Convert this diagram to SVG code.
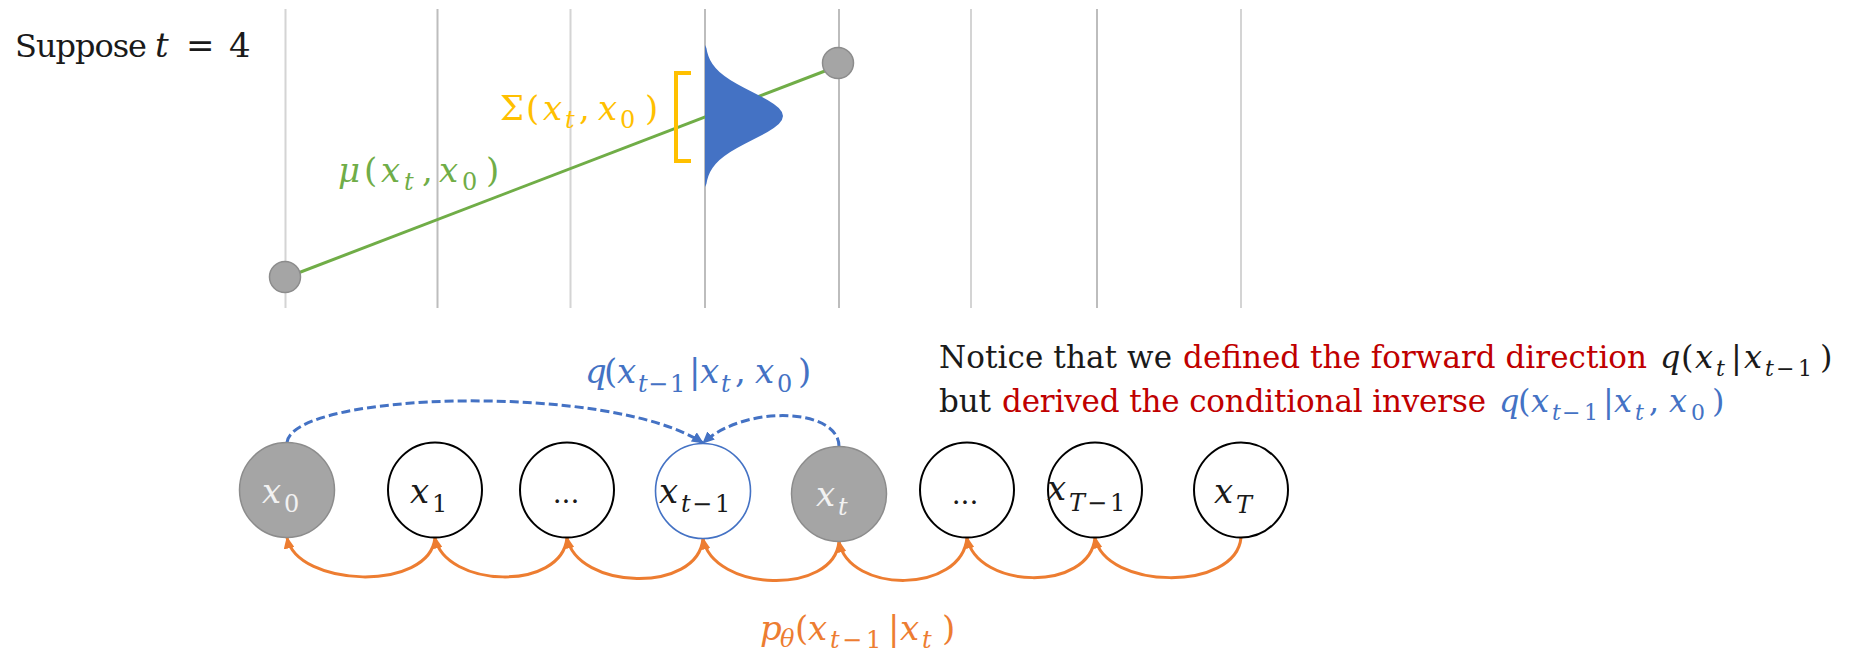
<svg xmlns="http://www.w3.org/2000/svg" width="1850" height="652" viewBox="0 0 1850 652">
<style>
  .s { font-family: "DejaVu Serif", serif; }
  .m { font-size: 34px; }
  .mn { font-size: 32px; }
  .p { font-size: 31px; }
  .it { font-style: italic; }
  .sub { font-size: 24px; }
  .subn { font-size: 22px; }
  .grid1 { stroke: #d4d4d4; stroke-width: 2; }
  .grid2 { stroke: #bdbdbd; stroke-width: 2; }
  .dot { fill: #a5a5a5; stroke: #8c8c8c; stroke-width: 1.5; }
  .nodeW { fill: #ffffff; stroke: #000000; stroke-width: 2; }
  .nodeG { fill: #a5a5a5; stroke: #8c8c8c; stroke-width: 1.5; }
  .nodeB { fill: #ffffff; stroke: #4472c4; stroke-width: 1.6; }
  .fwd { fill: none; stroke: #ed7d31; stroke-width: 3; marker-end: url(#arrO); }
  .inv { fill: none; stroke: #4472c4; stroke-width: 3; stroke-dasharray: 9 4; marker-end: url(#arrB); }
  .lblW { fill: #f2f2f2; }
  .lblK { fill: #1a1a1a; }
  .blue { fill: #4472c4; }
  .orange { fill: #ed7d31; }
  .green { fill: #70ad47; }
  .gold { fill: #ffc000; }
  .red { fill: #c00000; }
</style>
<defs>
  <marker id="arrO" viewBox="0 0 12 11" refX="11" refY="5.5" markerWidth="12" markerHeight="11" markerUnits="userSpaceOnUse" orient="auto">
    <path d="M0,0 L12,5.5 L0,11 z" fill="#ed7d31"/>
  </marker>
  <marker id="arrB" viewBox="0 0 12 11" refX="11" refY="5.5" markerWidth="12" markerHeight="11" markerUnits="userSpaceOnUse" orient="auto">
    <path d="M0,0 L12,5.5 L0,11 z" fill="#4472c4"/>
  </marker>
</defs>
<rect width="1850" height="652" fill="#ffffff"/>

<!-- upper plot -->
<g id="grid">
  <line class="grid1" x1="285.5" y1="9" x2="285.5" y2="308"/>
  <line class="grid2" x1="437.5" y1="9" x2="437.5" y2="308"/>
  <line class="grid1" x1="570.5" y1="9" x2="570.5" y2="308"/>
  <line class="grid2" x1="705" y1="9" x2="705" y2="308"/>
  <line class="grid2" x1="839" y1="9" x2="839" y2="308"/>
  <line class="grid1" x1="971" y1="9" x2="971" y2="308"/>
  <line class="grid2" x1="1097" y1="9" x2="1097" y2="308"/>
  <line class="grid1" x1="1241" y1="9" x2="1241" y2="308"/>
</g>

<g id="suppose">
  <text class="s lblK" x="15" y="57" style="font-size:32px" textLength="132">Suppose</text>
  <text class="s m lblK" y="57"><tspan x="155" class="it">t</tspan><tspan x="186">=</tspan><tspan x="229">4</tspan></text>
</g>

<g id="mean-line">
  <line x1="285" y1="278" x2="838" y2="66" stroke="#70ad47" stroke-width="3"/>
</g>
<g id="gaussian">
  <path d="M705,45 L706.4,48 L707.2,52 L708.4,56 L710.1,60 L712.5,64 L715.6,68 L719.5,72 L724.5,76 L730.3,80 L737.1,84 L744.5,88 L752.3,92 L760.1,96 L767.5,100 L773.8,104 L778.8,108 L781.9,112 L783,116 L781.9,120 L778.8,124 L773.8,128 L767.5,132 L760.1,136 L752.3,140 L744.5,144 L737.1,148 L730.3,152 L724.5,156 L719.5,160 L715.6,164 L712.5,168 L710.1,172 L708.4,176 L707.2,180 L706.4,184 L705,187 Z" fill="#4472c4"/>
</g>
<g id="bracket">
  <path d="M691,73 L676,73 L676,161 L691,161" fill="none" stroke="#ffc000" stroke-width="4"/>
</g>
<g id="dot-start"><circle class="dot" cx="285" cy="277" r="15.5"/></g>
<g id="dot-end"><circle class="dot" cx="838" cy="63" r="15.5"/></g>

<text id="sigma-label" class="s m gold" y="120"><tspan x="500">Σ</tspan><tspan x="526">(</tspan><tspan x="543" class="it">x</tspan><tspan x="565" y="128" class="sub it">t</tspan><tspan x="579" y="120">,</tspan><tspan x="598" class="it">x</tspan><tspan x="620" y="128" class="sub">0</tspan><tspan x="645" y="120">)</tspan></text>

<text id="mu-label" class="s m green" y="182"><tspan x="338" class="it">μ</tspan><tspan x="364">(</tspan><tspan x="381" class="it">x</tspan><tspan x="404" y="190" class="sub it">t</tspan><tspan x="422" y="182">,</tspan><tspan x="439" class="it">x</tspan><tspan x="462" y="190" class="sub">0</tspan><tspan x="486" y="182">)</tspan></text>

<!-- connectors -->
<g id="connectors">
  <path class="inv" d="M287,442.5 C292,392 610,382 703,443"/>
  <path class="inv" d="M839,446.5 C839,408 745,404 703,443"/>
  <path class="fwd" d="M435,537.5 C430,592 297,588 287,537.5"/>
  <path class="fwd" d="M567,537.5 C562,592 445,588 435,537.5"/>
  <path class="fwd" d="M703,538.5 C698,594 577,590 567,537.5"/>
  <path class="fwd" d="M839,541.5 C834,596 713,592 703,538.5"/>
  <path class="fwd" d="M967,537.5 C962,594 849,594 839,541.5"/>
  <path class="fwd" d="M1095,537.5 C1090,592 977,590 967,537.5"/>
  <path class="fwd" d="M1241,537.5 C1236,592 1105,590 1095,537.5"/>
</g>

<!-- nodes -->
<g id="node-x0">
  <ellipse class="nodeG" cx="287" cy="490" rx="47.5" ry="47.5"/>
  <text class="s m lblW" y="503"><tspan x="262" class="it">x</tspan><tspan x="284" y="512" class="sub">0</tspan></text>
</g>
<g id="node-x1">
  <ellipse class="nodeW" cx="435" cy="490" rx="47" ry="47.5"/>
  <text class="s m lblK" y="503"><tspan x="410" class="it">x</tspan><tspan x="432" y="512" class="sub">1</tspan></text>
</g>
<g id="node-dots1">
  <ellipse class="nodeW" cx="567" cy="490" rx="47" ry="47.5"/>
  <text class="s lblK" x="566" y="503" text-anchor="middle" style="font-size:28px">...</text>
</g>
<g id="node-xt-1">
  <ellipse class="nodeB" cx="703" cy="491" rx="47.5" ry="47.5"/>
  <text class="s m lblK" y="503"><tspan x="659" class="it">x</tspan><tspan x="681" y="512" class="sub it">t</tspan><tspan x="692" class="sub">−</tspan><tspan x="715" class="sub">1</tspan></text>
</g>
<g id="node-xt">
  <ellipse class="nodeG" cx="839" cy="494" rx="47.5" ry="47.5"/>
  <text class="s m lblW" y="506"><tspan x="816" class="it">x</tspan><tspan x="838" y="515" class="sub it">t</tspan></text>
</g>
<g id="node-dots2">
  <ellipse class="nodeW" cx="967" cy="490" rx="47" ry="47.5"/>
  <text class="s lblK" x="965" y="504" text-anchor="middle" style="font-size:28px">...</text>
</g>
<g id="node-xT-1">
  <ellipse class="nodeW" cx="1095" cy="490" rx="47" ry="47.5"/>
  <text class="s m lblK" y="500"><tspan x="1047" class="it">x</tspan><tspan x="1069" y="511" class="sub it">T</tspan><tspan x="1087" class="sub">−</tspan><tspan x="1110" class="sub">1</tspan></text>
</g>
<g id="node-xT">
  <ellipse class="nodeW" cx="1241" cy="490" rx="47" ry="47.5"/>
  <text class="s m lblK" y="503"><tspan x="1214" class="it">x</tspan><tspan x="1236" y="513" class="sub it">T</tspan></text>
</g>

<!-- connector labels -->
<text id="q-label" class="s m blue" y="383"><tspan x="585" class="it">q</tspan><tspan x="604">(</tspan><tspan x="617" class="it">x</tspan><tspan x="638" y="392" class="sub it">t</tspan><tspan x="648" class="sub">−</tspan><tspan x="670" class="sub">1</tspan><tspan x="689" y="383">|</tspan><tspan x="700" class="it">x</tspan><tspan x="721" y="392" class="sub it">t</tspan><tspan x="735" y="383">,</tspan><tspan x="755" class="it">x</tspan><tspan x="777" y="392" class="sub">0</tspan><tspan x="798" y="383">)</tspan></text>

<text id="p-label" class="s m orange" y="640"><tspan x="760" class="it">p</tspan><tspan x="780" y="647" class="sub it">θ</tspan><tspan x="795" y="640">(</tspan><tspan x="808" class="it">x</tspan><tspan x="830" y="648" class="sub it">t</tspan><tspan x="842" class="sub">−</tspan><tspan x="866" class="sub">1</tspan><tspan x="888" y="640">|</tspan><tspan x="900" class="it">x</tspan><tspan x="922" y="648" class="sub it">t</tspan><tspan x="942" y="640">)</tspan></text>

<!-- notice text -->
<g id="notice">
  <text class="s p lblK" x="939" y="368" textLength="233">Notice that we</text>
  <text class="s p red" x="1183" y="368" textLength="464">defined the forward direction</text>
  <text class="s mn lblK" y="368"><tspan x="1660" class="it">q</tspan><tspan x="1681">(</tspan><tspan x="1695" class="it">x</tspan><tspan x="1716" y="376" class="subn it">t</tspan><tspan x="1731" y="368">|</tspan><tspan x="1744" class="it">x</tspan><tspan x="1765" y="376" class="subn it">t</tspan><tspan x="1776" class="subn">−</tspan><tspan x="1798" class="subn">1</tspan><tspan x="1820" y="368">)</tspan></text>
  <text class="s p lblK" x="939" y="412" textLength="52">but</text>
  <text class="s p red" x="1002" y="412" textLength="484">derived the conditional inverse</text>
  <text class="s mn blue" y="412"><tspan x="1499" class="it">q</tspan><tspan x="1518">(</tspan><tspan x="1531" class="it">x</tspan><tspan x="1552" y="420" class="subn it">t</tspan><tspan x="1562" class="subn">−</tspan><tspan x="1584" class="subn">1</tspan><tspan x="1603" y="412">|</tspan><tspan x="1614" class="it">x</tspan><tspan x="1635" y="420" class="subn it">t</tspan><tspan x="1649" y="412">,</tspan><tspan x="1669" class="it">x</tspan><tspan x="1691" y="420" class="subn">0</tspan><tspan x="1712" y="412">)</tspan></text>
</g>
</svg>
